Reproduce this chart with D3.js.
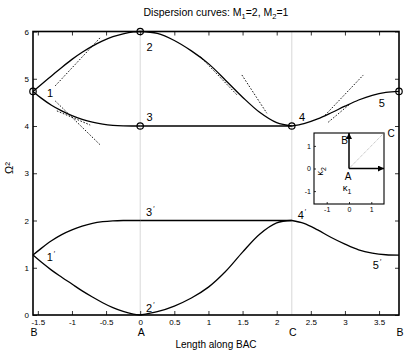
<!DOCTYPE html>
<html><head><meta charset="utf-8">
<script src="https://cdn.jsdelivr.net/npm/d3@7"></script>
<style>
body{margin:0;background:#fff;}
svg{display:block;font-family:"Liberation Sans",Arial,Helvetica,sans-serif;}
</style></head><body>
<svg id="chart" width="406" height="351"></svg>
<script>
// High-symmetry points along the path B -> A -> C -> B (path-length coordinate)
const pathNames = ["B", "A", "C", "B"];
const pathPos = [-1.5708, 0, 2.2214, 3.7922];
const xTicks = [-1.5, -1, -0.5, 0, 0.5, 1, 1.5, 2, 2.5, 3, 3.5];
const yTicks = [0, 1, 2, 3, 4, 5, 6];

// Sample positions along each leg
const sBA = [-1.5708, -1.45, -1.3, -1.15, -1.0, -0.85, -0.7, -0.55, -0.4, -0.25, -0.1, 0];
const sAC = [0, 0.25, 0.5, 0.75, 1.0, 1.25, 1.5, 1.75, 2.0, 2.2214];
const sCB = [2.2214, 2.4, 2.6, 2.8, 3.0, 3.2, 3.4, 3.6, 3.7922];

// Omega^2 on leg BA
const baTop   = [4.732, 4.88, 5.06, 5.24, 5.41, 5.56, 5.69, 5.80, 5.89, 5.95, 5.99, 6.0];
const baUpper = [4.732, 4.59, 4.44, 4.32, 4.22, 4.14, 4.08, 4.04, 4.015, 4.003, 4.0, 4.0];
const baLower = [1.268, 1.41, 1.57, 1.70, 1.80, 1.88, 1.94, 1.975, 1.993, 2.0, 2.0, 2.0];
const baBottom = [1.268, 1.12, 0.95, 0.80, 0.655, 0.51, 0.38, 0.26, 0.155, 0.075, 0.02, 0.0];
// Omega^2 on leg AC
const acTop    = [6.0, 5.96, 5.81, 5.59, 5.32, 4.97, 4.61, 4.29, 4.07, 4.0];
const acUpper  = [4.0, 4.0, 4.0, 4.0, 4.0, 4.0, 4.0, 4.0, 4.0, 4.0];
const acLower  = [2.0, 2.0, 2.0, 2.0, 2.0, 2.0, 2.0, 2.0, 2.0, 2.0];
const acBottom = [0.0, 0.07, 0.19, 0.36, 0.59, 0.92, 1.33, 1.71, 1.95, 2.0];
// Omega^2 on leg CB
const cbUpper = [4.0, 4.05, 4.15, 4.28, 4.42, 4.55, 4.65, 4.71, 4.732];
const cbLower = [2.0, 1.94, 1.80, 1.64, 1.50, 1.38, 1.31, 1.275, 1.268];

// Asymptotic approximations (dashed), start and end points
const asymStartS = [-1.245, -1.245, -1.221, 0.879, 1.49, 2.71, 2.755];
const asymStartW = [4.85, 4.53, 4.32, 5.47, 5.08, 4.23, 4.08];
const asymEndS   = [-0.586, -0.586, -0.733, 1.417, 1.856, 3.27, 3.077];
const asymEndW   = [5.87, 3.60, 4.02, 4.66, 4.27, 5.08, 4.47];

// Marked degenerate points
const markS = [-1.5708, 0, 0, 2.2214, 3.7922];
const markW = [4.732, 6, 4, 4, 4.732];

// Branch point labels
const labelText  = ["1", "2", "3", "4", "5", "1", "2", "3", "4", "5"];
const labelPrime = [false, false, false, false, false, true, true, true, true, true];
const labelS = [-1.319, 0.137, 0.137, 2.37, 3.54, -1.309, 0.147, 0.147, 2.37, 3.47];
const labelW = [4.69, 5.68, 4.18, 4.18, 4.49, 1.234, 0.14, 2.17, 2.12, 1.06];

// Brillouin-zone inset: path corners
const insetTicks = [-1, 0, 1];
const zoneA = [0, 0], zoneB = [0, 1.5708], zoneC = [1.5708, 1.5708], zoneX = [1.5708, 0];

const svg = d3.select("#chart");
const x = d3.scaleLinear().domain([pathPos[0], pathPos[3]]).range([33, 399]);
const y = d3.scaleLinear().domain([0, 6]).range([315, 31.5]);

const branches = [
  [sBA, baTop], [sBA, baUpper], [sBA, baLower], [sBA, baBottom],
  [sAC, acTop], [sAC, acUpper], [sAC, acLower], [sAC, acBottom],
  [sCB, cbUpper], [sCB, cbLower]
].map(([s, w]) => s.map((v, i) => [v, w[i]]));

// Title
const title = svg.append("text").attr("x", 216).attr("y", 16)
  .attr("text-anchor", "middle").attr("font-size", 10.5).attr("fill", "#000");
title.append("tspan").text("Dispersion curves: M");
title.append("tspan").attr("font-size", 7.5).attr("dy", 3).text("1");
title.append("tspan").attr("dy", -3).text("=2, M");
title.append("tspan").attr("font-size", 7.5).attr("dy", 3).text("2");
title.append("tspan").attr("dy", -3).text("=1");

// Vertical guides at A and C
svg.append("g").selectAll("line").data(pathPos.slice(1, 3)).join("line")
  .attr("x1", d => x(d)).attr("x2", d => x(d))
  .attr("y1", y(6)).attr("y2", y(0))
  .attr("stroke", "#b0b0b0").attr("stroke-width", 1).attr("stroke-dasharray", "1,1");

// Axes with inward ticks
const fmt = d => String(d).replace("−", "-");
const axB = svg.append("g").attr("transform", `translate(0,${y(0)})`)
  .call(d3.axisBottom(x).tickValues(xTicks).tickSizeInner(-4).tickSizeOuter(0).tickPadding(4).tickFormat(fmt));
const axT = svg.append("g").attr("transform", `translate(0,${y(6)})`)
  .call(d3.axisTop(x).tickValues(xTicks).tickSizeInner(-4).tickSizeOuter(0).tickFormat(""));
const axL = svg.append("g").attr("transform", `translate(${x(pathPos[0])},0)`)
  .call(d3.axisLeft(y).tickValues(yTicks).tickSizeInner(-4).tickSizeOuter(0).tickPadding(4).tickFormat(fmt));
const axR = svg.append("g").attr("transform", `translate(${x(pathPos[3])},0)`)
  .call(d3.axisRight(y).tickValues(yTicks).tickSizeInner(-4).tickSizeOuter(0).tickFormat(""));
[axB, axT, axL, axR].forEach(g => {
  g.select(".domain").remove();
  g.selectAll(".tick line").attr("stroke", "#000").attr("stroke-width", 0.8);
  g.selectAll("text").attr("font-size", 8).attr("fill", "#000")
    .attr("font-family", "'Liberation Sans',Arial,sans-serif");
});

// Path point letters under the x axis
svg.append("g").selectAll("text").data(pathPos).join("text")
  .attr("x", d => x(d) + 1).attr("y", 336)
  .attr("text-anchor", "middle").attr("font-size", 10.5).attr("fill", "#000")
  .text((d, i) => pathNames[i]);

// Axis titles
svg.append("text").attr("x", 216).attr("y", 347.5).attr("text-anchor", "middle")
  .attr("font-size", 10).attr("fill", "#000").text("Length along BAC");
svg.append("text").attr("transform", "translate(13,168) rotate(-90)")
  .attr("text-anchor", "middle").attr("font-size", 11).attr("fill", "#000").text("Ω²");

// Asymptotes
svg.append("g").selectAll("line").data(asymStartS).join("line")
  .attr("x1", (d, i) => x(d)).attr("y1", (d, i) => y(asymStartW[i]))
  .attr("x2", (d, i) => x(asymEndS[i])).attr("y2", (d, i) => y(asymEndW[i]))
  .attr("stroke", "#000").attr("stroke-width", 0.9).attr("stroke-dasharray", "1.6,1.6");

// Dispersion branches
const line = d3.line().x(d => x(d[0])).y(d => y(d[1])).curve(d3.curveCatmullRom.alpha(0.5));
svg.append("g").selectAll("path").data(branches).join("path")
  .attr("d", line).attr("fill", "none").attr("stroke", "#000").attr("stroke-width", 1.3);

// Plot frame
svg.append("rect").attr("x", x(pathPos[0])).attr("y", y(6))
  .attr("width", x(pathPos[3]) - x(pathPos[0])).attr("height", y(0) - y(6))
  .attr("fill", "none").attr("stroke", "#000").attr("stroke-width", 1.6);

// Markers
svg.append("g").selectAll("circle").data(markS).join("circle")
  .attr("cx", d => x(d)).attr("cy", (d, i) => y(markW[i])).attr("r", 3.2)
  .attr("fill", "none").attr("stroke", "#000").attr("stroke-width", 1.2);

// Branch labels
const lab = svg.append("g").selectAll("text").data(labelS).join("text")
  .attr("x", d => x(d)).attr("y", (d, i) => y(labelW[i]))
  .attr("dy", "0.36em").attr("text-anchor", "middle").attr("font-size", 11).attr("fill", "#000");
lab.append("tspan").text((d, i) => labelText[i]);
lab.filter((d, i) => labelPrime[i]).append("tspan")
  .attr("font-size", 7).attr("dx", 1).attr("dy", -5).text("′");

// Inset: path in the Brillouin zone
const ix = d3.scaleLinear().domain([-1.5708, 1.5708]).range([314, 384]);
const iy = d3.scaleLinear().domain([-1.5708, 1.5708]).range([204, 133]);
const inset = svg.append("g");
inset.append("rect").attr("x", ix(-1.5708)).attr("y", iy(1.5708))
  .attr("width", ix(1.5708) - ix(-1.5708)).attr("height", iy(-1.5708) - iy(1.5708))
  .attr("fill", "#fff").attr("stroke", "#000").attr("stroke-width", 1.1);
const iaxB = inset.append("g").attr("transform", `translate(0,${iy(-1.5708)})`)
  .call(d3.axisBottom(ix).tickValues(insetTicks).tickSizeInner(-2).tickSizeOuter(0).tickPadding(3).tickFormat(fmt));
const iaxL = inset.append("g").attr("transform", `translate(${ix(-1.5708)},0)`)
  .call(d3.axisLeft(iy).tickValues(insetTicks).tickSizeInner(-2).tickSizeOuter(0).tickPadding(3).tickFormat(fmt));
[iaxB, iaxL].forEach(g => {
  g.select(".domain").remove();
  g.selectAll(".tick line").attr("stroke", "#000").attr("stroke-width", 0.8);
  g.selectAll("text").attr("font-size", 7).attr("fill", "#000")
    .attr("font-family", "'Liberation Sans',Arial,sans-serif");
});
svg.append("defs").append("marker").attr("id", "arrow")
  .attr("viewBox", "0 0 6 6").attr("refX", 6).attr("refY", 3)
  .attr("markerWidth", 4).attr("markerHeight", 4).attr("orient", "auto")
  .append("path").attr("d", "M0,0L6,3L0,6Z").attr("fill", "#000");
inset.append("line").attr("x1", ix(zoneA[0])).attr("y1", iy(zoneA[1]))
  .attr("x2", ix(zoneC[0])).attr("y2", iy(zoneC[1]))
  .attr("stroke", "#aaa").attr("stroke-width", 0.9).attr("stroke-dasharray", "1,1");
[zoneB, zoneX].forEach(p => inset.append("line")
  .attr("x1", ix(zoneA[0])).attr("y1", iy(zoneA[1]))
  .attr("x2", ix(p[0])).attr("y2", iy(p[1]))
  .attr("stroke", "#000").attr("stroke-width", 1.5).attr("marker-end", "url(#arrow)"));
inset.append("text").attr("x", ix(zoneB[0]) - 1).attr("y", iy(zoneB[1]) + 11)
  .attr("text-anchor", "end").attr("font-size", 10).text("B");
inset.append("text").attr("x", ix(zoneA[0]) - 1).attr("y", iy(zoneA[1]) + 11)
  .attr("text-anchor", "middle").attr("font-size", 10).text("A");
inset.append("text").attr("x", ix(zoneC[0]) + 7).attr("y", iy(zoneC[1]) + 4)
  .attr("text-anchor", "middle").attr("font-size", 10).text("C");
const k1 = inset.append("text").attr("x", ix(0) - 2).attr("y", iy(-1.0))
  .attr("text-anchor", "middle").attr("font-size", 9.5);
k1.append("tspan").text("κ");
k1.append("tspan").attr("font-size", 7).attr("dy", 3).text("1");
const k2 = inset.append("text").attr("transform", `translate(${ix(-1.15)},${iy(0) + 3}) rotate(-90)`)
  .attr("text-anchor", "middle").attr("font-size", 9.5);
k2.append("tspan").text("κ");
k2.append("tspan").attr("font-size", 7).attr("dy", 3).text("2");
</script>
</body></html>
